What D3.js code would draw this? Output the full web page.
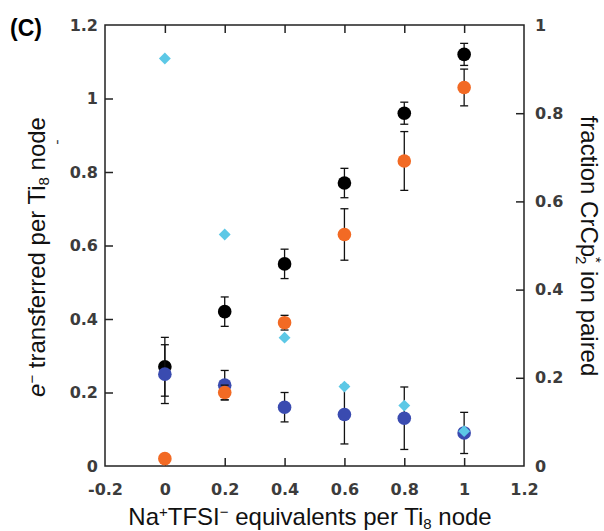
<!DOCTYPE html>
<html>
<head>
<meta charset="utf-8">
<script src="https://cdn.jsdelivr.net/npm/d3@7"></script>
<style>
  html, body { margin: 0; padding: 0; background: #fff; }
  svg { display: block; }
</style>
</head>
<body>
<svg id="chart" width="604" height="531"></svg>
<script>
// ---- data ----
const xVals = [0, 0.2, 0.4, 0.6, 0.8, 1];
const blackY = [0.27, 0.42, 0.55, 0.77, 0.96, 1.12];
const blackErr = [0.08, 0.04, 0.04, 0.04, 0.03, 0.03];
const orangeY = [0.02, 0.20, 0.39, 0.63, 0.83, 1.03];
const orangeErr = [0, 0.02, 0.02, 0.07, 0.08, 0.05];
const blueY = [0.25, 0.22, 0.16, 0.14, 0.13, 0.09];
const blueErr = [0.08, 0.04, 0.04, 0.08, 0.085, 0.056];
const cyanY = [0.924, 0.525, 0.291, 0.18, 0.137, 0.079]; // right axis
const xTicks = [-0.2, 0, 0.2, 0.4, 0.6, 0.8, 1, 1.2];
const yLeftTicks = [0, 0.2, 0.4, 0.6, 0.8, 1, 1.2];
const yRightTicks = [0, 0.2, 0.4, 0.6, 0.8, 1];

const svg = d3.select("#chart");
const L = 105, R = 524, T = 25, B = 466;
const x = d3.scaleLinear().domain([-0.2, 1.2]).range([L, R]);
const yL = d3.scaleLinear().domain([0, 1.2]).range([B, T]);
const yR = d3.scaleLinear().domain([0, 1]).range([B, T]);

const fmt = d => String(+d.toFixed(2));
const tickFont = "'DejaVu Sans', sans-serif";

function styleAxis(g) {
  g.selectAll(".domain").remove();
  g.selectAll(".tick line").attr("stroke", "#222").attr("stroke-width", 1.5);
  g.selectAll(".tick text").attr("font-family", tickFont).attr("font-size", 16)
    .attr("font-weight", "bold").attr("fill", "#3c3c3c");
}

// bottom axis (labels), ticks inward only at 0..1
const gB = svg.append("g").attr("transform", `translate(0,${B})`)
  .call(d3.axisBottom(x).tickValues(xTicks).tickFormat(fmt).tickSizeInner(-8).tickSizeOuter(0).tickPadding(18));
styleAxis(gB);
gB.selectAll(".tick line").filter(d => d < -0.1 || d > 1.1).remove();

const gT = svg.append("g").attr("transform", `translate(0,${T})`)
  .call(d3.axisTop(x).tickValues(xVals).tickFormat("").tickSizeInner(-8).tickSizeOuter(0));
styleAxis(gT);

const gL = svg.append("g").attr("transform", `translate(${L},0)`)
  .call(d3.axisLeft(yL).tickValues(yLeftTicks).tickFormat(fmt).tickSizeInner(-8).tickSizeOuter(0).tickPadding(7));
styleAxis(gL);
gL.selectAll(".tick line").filter(d => d < 0.1 || d > 1.1).remove();
gL.selectAll(".tick text").attr("x", -7);

const gR = svg.append("g").attr("transform", `translate(${R},0)`)
  .call(d3.axisRight(yR).tickValues(yRightTicks).tickFormat(fmt).tickSizeInner(-8).tickSizeOuter(0));
styleAxis(gR);
gR.selectAll(".tick line").filter(d => d < 0.1 || d > 0.9).remove();
gR.selectAll(".tick text").attr("x", 11);

// frame
svg.append("rect").attr("x", L).attr("y", T).attr("width", R - L).attr("height", B - T)
  .attr("fill", "none").attr("stroke", "#222").attr("stroke-width", 1.5);

// error bars + points
function series(ys, errs, color) {
  const g = svg.append("g");
  xVals.forEach((xv, i) => {
    const e = errs[i];
    if (e > 0) {
      const cx = x(xv), y1 = yL(ys[i] + e), y2 = yL(ys[i] - e);
      g.append("line").attr("x1", cx).attr("x2", cx).attr("y1", y1).attr("y2", y2)
        .attr("stroke", "#111").attr("stroke-width", 1.3);
      [y1, y2].forEach(yy => g.append("line").attr("x1", cx - 4).attr("x2", cx + 4)
        .attr("y1", yy).attr("y2", yy).attr("stroke", "#111").attr("stroke-width", 1.3));
    }
  });
  g.selectAll("circle").data(ys).join("circle")
    .attr("cx", (d, i) => x(xVals[i])).attr("cy", d => yL(d)).attr("r", 6.8).attr("fill", color);
}
series(blackY, blackErr, "#000000");
series(blueY, blueErr, "#3a4bb0");
series(orangeY, orangeErr, "#f26a24");

svg.append("g").selectAll("path").data(cyanY).join("path")
  .attr("d", d3.symbol().type(d3.symbolDiamond2).size(90))
  .attr("transform", (d, i) => `translate(${x(xVals[i])},${yR(d)})`)
  .attr("fill", "#5cc8e6");

// labels
const labFont = "'Liberation Sans', Arial, sans-serif";
const FS = 24, SS = 15;
svg.append("text").attr("x", 10).attr("y", 36).attr("font-family", labFont)
  .attr("font-size", 23).attr("font-weight", "bold").text("(C)");

const xl = svg.append("text").attr("x", 310).attr("y", 525).attr("text-anchor", "middle")
  .attr("font-family", labFont).attr("font-size", FS).attr("fill", "#111");
xl.append("tspan").text("Na");
xl.append("tspan").attr("dy", -8).attr("font-size", SS).text("+");
xl.append("tspan").attr("dy", 8).text("TFSI");
xl.append("tspan").attr("dy", -8).attr("font-size", SS).text("−");
xl.append("tspan").attr("dy", 8).text(" equivalents per Ti");
xl.append("tspan").attr("dy", 4).attr("font-size", SS).text("8");
xl.append("tspan").attr("dy", -4).text(" node");

const yl = svg.append("text").attr("transform", "translate(45,257) rotate(-90)").attr("text-anchor", "middle")
  .attr("font-family", labFont).attr("font-size", FS).attr("fill", "#111");
yl.append("tspan").attr("font-style", "italic").text("e");
yl.append("tspan").attr("dy", -8).attr("font-size", SS).text("−");
yl.append("tspan").attr("dy", 8).text(" transferred per Ti");
yl.append("tspan").attr("dy", 4).attr("font-size", SS).text("8");
yl.append("tspan").attr("dy", -4).text(" node");

svg.append("text").attr("transform", "translate(62,142) rotate(-90)").attr("text-anchor", "middle")
  .attr("font-family", labFont).attr("font-size", 16).attr("fill", "#444").text("-");

const yr = svg.append("text").attr("transform", "translate(581,246) rotate(90)").attr("text-anchor", "middle")
  .attr("font-family", labFont).attr("font-size", FS).attr("fill", "#111");
yr.append("tspan").text("fraction CrCp");
yr.append("tspan").attr("dy", -10).attr("font-size", SS).text("*");
yr.append("tspan").attr("dx", -7).attr("dy", 15).attr("font-size", SS).text("2");
yr.append("tspan").attr("dy", -5).text(" ion paired");
</script>
</body>
</html>
